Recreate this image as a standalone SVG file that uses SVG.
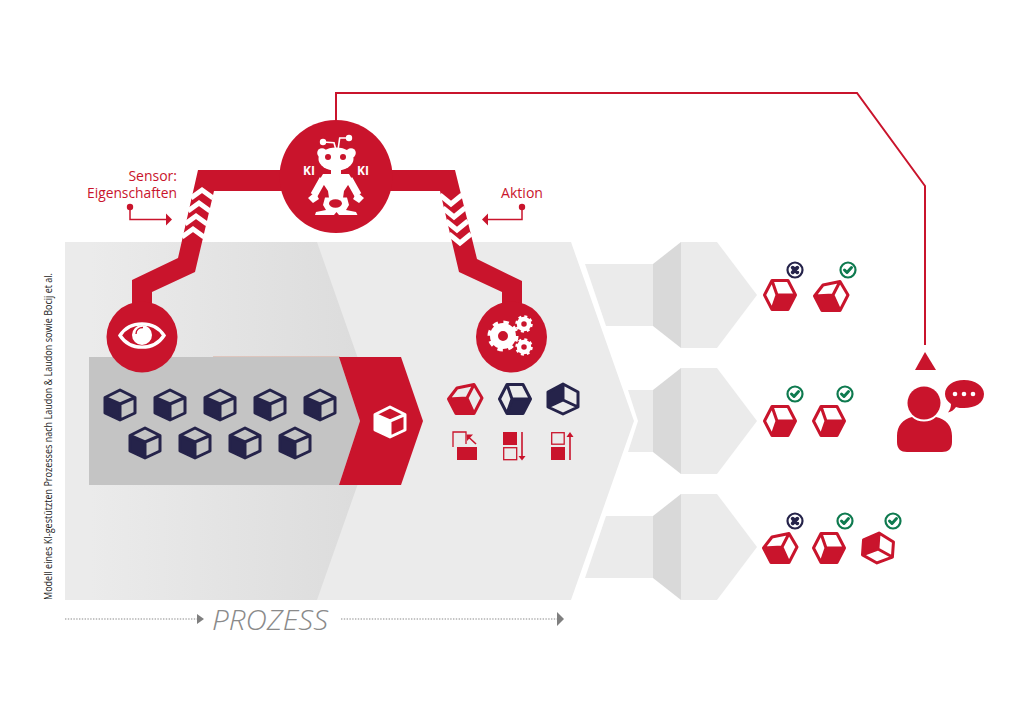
<svg xmlns="http://www.w3.org/2000/svg" width="1024" height="722" viewBox="0 0 1024 722">
<style>
.red{fill:#c9142c}
.lg{fill:#ebebeb}
.dg{fill:#d9d9d9}
.wire{fill:none;stroke:#c9142c;stroke-width:2}
.chev{fill:none;stroke:#fff;stroke-width:5}
.lbl{font-family:"Open Sans","Noto Sans",sans-serif;font-size:14px;fill:#c9142c}
.ki{font-family:"Open Sans","Noto Sans",sans-serif;font-size:12px;font-weight:700;fill:#fff;text-anchor:middle}
.navy{color:#25234a}
.crim{color:#c9142c}
.whi{color:#fff}
.ol{fill:none;stroke:currentColor;stroke-width:3;stroke-linejoin:round}
.fc{fill:currentColor}
.thin{fill:none;stroke:#c9142c;stroke-width:1.3}
.dot{fill:none;stroke:#8a8a8a;stroke-width:1.2;stroke-dasharray:1.4 1.4}
.ok{fill:none;stroke:#0e7a4f;stroke-width:2.200}
.okm{fill:none;stroke:#0e7a4f;stroke-width:3;stroke-linecap:round;stroke-linejoin:round}
.no{fill:none;stroke:#25234a;stroke-width:2.200}
.nom{fill:none;stroke:#25234a;stroke-width:3.800;stroke-linecap:round}
</style>
<defs>
<linearGradient id="fade" gradientUnits="userSpaceOnUse" x1="90" y1="0" x2="360" y2="0">
<stop offset="0" stop-color="#ebebeb"/><stop offset="1" stop-color="#dcdcdc"/>
</linearGradient>
<g id="cubeP">
<path class="fc" d="M-15-7L0-1V15L-15 8Z"/>
<path class="ol" d="M0-15L15-7.500V8L0 15L-15 8V-7.500ZM-15-7.500L0-1L15-7.500M0-1V15"/>
</g>
<g id="cubeA">
<path class="fc" d="M-16 0L2-1L9 14.500H-9Z"/>
<path class="ol" d="M-16.500 0L-8-11L9-14.500L17-1L9 14.500H-9ZM-16.500 0L2-1L9-14.500M2-1L9 14.500"/>
</g>
<g id="cubeB">
<path class="fc" d="M-3 0H15.500L8 14.500H-8Z"/>
<path class="ol" d="M-15.500 0L-8-14.500H8L15.500 0L8 14.500H-8ZM-8-14.500L-3 0L-8 14.500M-3 0H15.500"/>
</g>
<g id="cubeC">
<path class="fc" d="M0-15L0 1L-15 8V-7Z"/>
<path class="ol" d="M0-15L15-7V8L0 15L-15 8V-7ZM-15 8L0 1L15 8M0 1V-15"/>
</g>
<g id="okb"><circle r="7.500" class="ok"/><path class="okm" d="M-3.500 0L-1 2.500L3.500-2.500"/></g>
<g id="nob"><circle r="7.500" class="no"/><path class="nom" d="M-2.300-2.300L2.300 2.300M2.300-2.300L-2.300 2.300"/></g>
<g id="bigGear"><circle r="9" fill="none" stroke="#fff" stroke-width="8"/><circle r="13.500" fill="none" stroke="#fff" stroke-width="4" stroke-dasharray="5.300 5.300"/></g>
<g id="smallGear"><circle r="5" fill="none" stroke="#fff" stroke-width="4.500"/><circle r="7.500" fill="none" stroke="#fff" stroke-width="2.500" stroke-dasharray="2.950 2.950"/></g>
</defs>

<g id="process-band">
<path class="lg" d="M65 242H571L634 421L571 600H65Z"/>
<path fill="url(#fade)" d="M65 242H317L380 421L317 600H65Z"/>
</g>
<g id="outcome-1"><path class="lg" d="M585 264H653V326H606Z"/><path class="dg" d="M653 264L681 242V348L653 326Z"/><path class="lg" d="M681 242H717L757 295L717 348H681Z"/></g>
<g id="outcome-2"><path class="lg" d="M628 390H653V452H628L638 421Z"/><path class="dg" d="M653 390L681 368V474L653 452Z"/><path class="lg" d="M681 368H717L757 421L717 474H681Z"/></g>
<g id="outcome-3"><path class="lg" d="M606 516H653V578H585Z"/><path class="dg" d="M653 516L681 494V600L653 578Z"/><path class="lg" d="M681 494H717L757 547L717 600H681Z"/></g>

<g id="queue">
<path d="M213 357H340" stroke="#d9a898" stroke-width="1"/>
<path fill="#c4c4c4" d="M89 357H339L360 421L339 485H89Z"/>
<g class="navy">
<use href="#cubeP" x="120" y="405"/><use href="#cubeP" x="170" y="405"/><use href="#cubeP" x="220" y="405"/><use href="#cubeP" x="270" y="405"/><use href="#cubeP" x="320" y="405"/>
<use href="#cubeP" x="145" y="443"/><use href="#cubeP" x="195" y="443"/><use href="#cubeP" x="245" y="443"/><use href="#cubeP" x="295" y="443"/>
</g>
</g>
<g id="current-item">
<path class="red" d="M339 357H401L423 421L401 485H339L360 421Z"/>
<g class="whi"><use href="#cubeP" x="390" y="422"/></g>
</g>

<g id="connectors">
<path class="red" d="M290 170H198L178 258L132 280V310H152V292L195 272L214 191H290Z"/>
<path class="red" d="M385 170H455L477 259L522 281V310H502V292L459 272L440 191H385Z"/>
<g class="chev">
<path d="M191 198L202 190L213 198"/><path d="M188 211L199 203L210 211"/><path d="M185 224L196 216L207 224"/><path d="M182 237L193 229L204 237"/>
<path d="M440 195L451 204L462 195"/><path d="M443 208L454 217L465 208"/><path d="M446 221L457 230L468 221"/><path d="M449 234L460 243L471 234"/>
</g>
<path class="wire" d="M336 122V93H857L925 186V345"/>
<path class="red" d="M915 370L925 352L936 370Z"/>
<circle class="red" cx="130" cy="207" r="3.200"/>
<path class="wire" style="stroke-width:1.500" d="M130 207V219.500H167"/>
<path class="red" d="M166 213.500L172 219.500L166 225.500Z"/>
<circle class="red" cx="522" cy="207" r="3.200"/>
<path class="wire" style="stroke-width:1.500" d="M522 207V219.500H487"/>
<path class="red" d="M488 213.500L482 219.500L488 225.500Z"/>
</g>

<g id="ki-robot">
<circle class="red" cx="336" cy="176.500" r="56.500"/>
<g fill="none" stroke="#fff" stroke-width="1.600">
<path d="M323 142L334 142.700L336 150"/><path d="M338 150L339.700 138H349"/>
</g>
<circle cx="323" cy="142" r="3.200" fill="#fff"/><circle cx="349" cy="138" r="3.200" fill="#fff"/>
<circle cx="322" cy="153" r="4.800" fill="#fff"/><circle cx="351" cy="153" r="4.800" fill="#fff"/>
<ellipse cx="336" cy="159" rx="17.500" ry="11.500" fill="#fff"/>
<circle class="red" cx="328" cy="157" r="3"/><circle class="red" cx="343" cy="157" r="3"/>
<path fill="#fff" d="M331 168H341V174H349L352 179L344 191L343 198H329L328 191L320 179L323 174H331Z"/>
<path fill="none" stroke="#fff" stroke-width="7.500" stroke-linejoin="round" d="M323 179L314 195M349 179L358 195"/>
<path fill="#fff" d="M308 198L315 192L319 199L313 203ZM364 198L357 192L353 199L359 203Z"/>
<path fill="#fff" d="M325 197.500H347L349 205L346 210L356 212L357.500 215H339L336.500 212L334 215H315L316 212L326 210L323 205Z"/>
<ellipse class="red" cx="335.500" cy="203.500" rx="6.500" ry="4.200"/>
<text class="ki" x="309" y="175">KI</text>
<text class="ki" x="363" y="175">KI</text>
</g>

<g id="sensor-eye">
<circle class="red" cx="142" cy="337" r="35.500"/>
<path fill="none" stroke="#fff" stroke-width="3.400" d="M120 335.500C130 320 154 320 164 335.500C154 351 130 351 120 335.500Z"/>
<circle cx="142" cy="335" r="10" fill="#fff"/>
<path fill="none" stroke="#c9142c" stroke-width="1.400" d="M136 334C136 330 139 327.500 143 327.500"/>
</g>

<g id="actor-gears">
<circle class="red" cx="511.500" cy="337" r="35.500"/>
<use href="#bigGear" x="503" y="336"/>
<use href="#smallGear" x="524" y="324"/>
<use href="#smallGear" x="524" y="347"/>
</g>

<g id="action-options">
<g class="crim"><use href="#cubeA" x="465" y="399"/></g>
<g class="navy"><use href="#cubeB" x="515" y="399"/><use href="#cubeC" x="563" y="399"/></g>
<path class="thin" d="M453 447V432H466V444"/><rect class="red" x="457" y="447" width="20" height="13"/>
<path class="thin" style="stroke-width:1.600" d="M476 444L469 437.500"/><path class="red" d="M466.500 434.500H473L467 441Z"/>
<rect class="red" x="503" y="432" width="14" height="13"/><rect class="thin" x="503.700" y="447.700" width="13" height="12"/>
<path class="thin" style="stroke-width:1.600" d="M522 432V457"/><path class="red" d="M518.500 456H525.500L522 460.500Z"/>
<rect class="thin" x="551.700" y="432.700" width="12.500" height="11.500"/><rect class="red" x="551" y="447" width="14" height="13"/>
<path class="thin" style="stroke-width:1.600" d="M570 436V460"/><path class="red" d="M566.500 437H573.500L570 432Z"/>
</g>

<g id="result-1">
<g class="crim"><use href="#cubeB" x="780" y="295"/><use href="#cubeA" x="831" y="296"/></g>
<use href="#nob" x="795" y="270"/><use href="#okb" x="848" y="270"/>
</g>
<g id="result-2">
<g class="crim"><use href="#cubeB" x="780" y="421"/><use href="#cubeB" x="829" y="421"/></g>
<use href="#okb" x="795" y="394"/><use href="#okb" x="845" y="394"/>
</g>
<g id="result-3">
<g class="crim"><use href="#cubeA" x="780" y="548"/><use href="#cubeB" x="829" y="548"/><use href="#cubeC" transform="translate(878 548) rotate(4)" /></g>
<use href="#nob" x="795" y="521"/><use href="#okb" x="845" y="521"/><use href="#okb" x="893" y="521"/>
</g>

<g id="user">
<circle class="red" cx="924" cy="403" r="16.500"/>
<path class="red" d="M912 417C918 423 930 423 936 417C946 419 952 426 952 436V442C952 449 948 452 942 452H907C901 452 897 449 897 442V436C897 426 903 419 912 417Z"/>
<path class="red" d="M964 380C975 380 984 386 984 394C984 403 975 408 964 408C961 408 958 408 956 407C954 410 951 412 948 412.500C950 410 951 407 951 404C947 401 945 398 945 394C945 386 953 380 964 380Z"/>
<circle cx="955" cy="394" r="2.300" fill="#fff"/><circle cx="964" cy="394" r="2.300" fill="#fff"/><circle cx="973" cy="394" r="2.300" fill="#fff"/>
</g>

<g id="labels">
<text class="lbl" x="177" y="181" text-anchor="end">Sensor:</text>
<text class="lbl" x="177" y="198" text-anchor="end" textLength="90" lengthAdjust="spacingAndGlyphs">Eigenschaften</text>
<text class="lbl" x="501" y="198" textLength="42" lengthAdjust="spacingAndGlyphs">Aktion</text>
<text transform="translate(52 600) rotate(-90)" font-family="'Open Sans','Noto Sans',sans-serif" font-size="10" fill="#1a1a1a" textLength="327" lengthAdjust="spacingAndGlyphs">Modell eines KI-gestützten Prozesses nach Laudon &amp; Laudon sowie Bocij et al.</text>
</g>

<g id="process-axis">
<path class="dot" d="M65 619H197"/><path d="M197 614L204 619L197 624Z" fill="#7f7f7f"/>
<text x="212" y="630" font-family="'Open Sans','Noto Sans',sans-serif" font-style="italic" font-weight="300" font-size="28" fill="#8a8a8a" textLength="116" lengthAdjust="spacingAndGlyphs">PROZESS</text>
<path class="dot" d="M341 619H557"/><path d="M557 612L564 619L557 626Z" fill="#7f7f7f"/>
</g>
</svg>
